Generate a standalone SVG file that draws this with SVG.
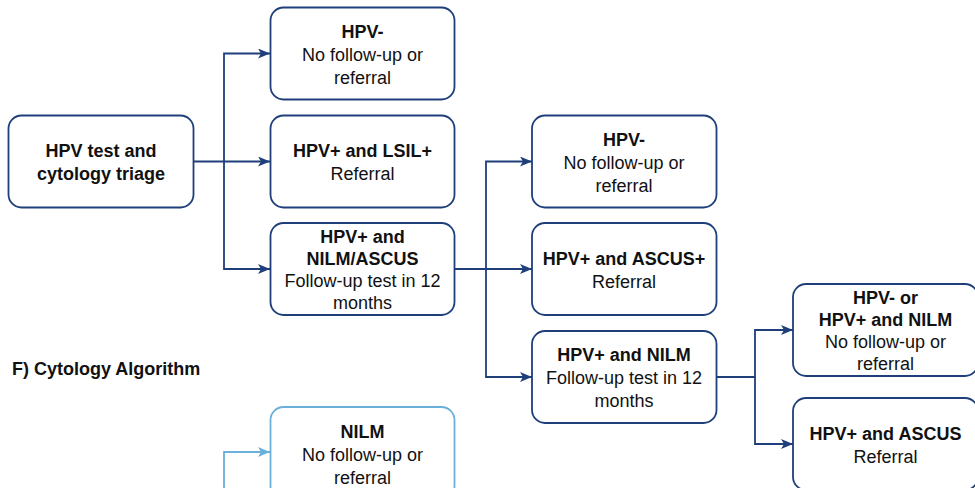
<svg xmlns="http://www.w3.org/2000/svg" width="975" height="488" viewBox="0 0 975 488">
<defs>
<style>
.box{fill:#fff;stroke:#1F3F7A;stroke-width:1.8}
.lbox{fill:#fff;stroke:#6BAFDB;stroke-width:1.8}
text{font-family:"Liberation Sans",Arial,sans-serif;font-size:18px;fill:#111;text-anchor:middle}
.b{font-weight:bold}
.c{fill:none;stroke:#1F3F7A;stroke-width:1.8}
.lc{fill:none;stroke:#6BAFDB;stroke-width:1.8}
</style>
<marker id="ah" viewBox="0 0 12 10" refX="12" refY="5" markerWidth="12" markerHeight="10" markerUnits="userSpaceOnUse" orient="auto">
<path d="M0,0 L12,5 L0,10 L3,5 Z" fill="#1F3F7A"/>
</marker>
<marker id="lah" viewBox="0 0 12 10" refX="12" refY="5" markerWidth="12" markerHeight="10" markerUnits="userSpaceOnUse" orient="auto">
<path d="M0,0 L12,5 L0,10 L3,5 Z" fill="#6BAFDB"/>
</marker>
</defs>
<rect width="975" height="488" fill="#fff"/>

<g id="connectors">
<path class="c" d="M193.5,161.5 H224 V53.5 H270" marker-end="url(#ah)"/>
<path class="c" d="M224,161.5 H270" marker-end="url(#ah)"/>
<path class="c" d="M224,161.5 V269 H270" marker-end="url(#ah)"/>
<path class="c" d="M455,269 H532" marker-end="url(#ah)"/>
<path class="c" d="M486,269 V161.5 H532" marker-end="url(#ah)"/>
<path class="c" d="M486,269 V377 H532" marker-end="url(#ah)"/>
<path class="c" d="M717,377 H755 V330 H793" marker-end="url(#ah)"/>
<path class="c" d="M755,377 V444 H793" marker-end="url(#ah)"/>
<path class="lc" d="M224,490 V452 H270" marker-end="url(#lah)"/>
</g>

<g id="start">
<rect class="box" x="8.5" y="115.5" width="185" height="92" rx="13"/>
<text class="b" x="101" y="157">HPV test and</text>
<text class="b" x="101" y="180">cytology triage</text>
</g>

<g id="hpvneg1">
<rect class="box" x="270.5" y="7.5" width="184" height="92" rx="13"/>
<text class="b" x="362.5" y="38">HPV-</text>
<text x="362.5" y="61">No follow-up or</text>
<text x="362.5" y="84">referral</text>
</g>

<g id="lsil">
<rect class="box" x="270.5" y="115.5" width="184" height="92" rx="13"/>
<text class="b" x="362.5" y="157">HPV+ and LSIL+</text>
<text x="362.5" y="180">Referral</text>
</g>

<g id="nilmascus">
<rect class="box" x="270.5" y="223" width="184" height="92" rx="13"/>
<text class="b" x="362.5" y="243">HPV+ and</text>
<text class="b" x="362.5" y="265">NILM/ASCUS</text>
<text x="362.5" y="287">Follow-up test in 12</text>
<text x="362.5" y="309">months</text>
</g>

<g id="hpvneg2">
<rect class="box" x="532" y="115.5" width="184.5" height="92" rx="13"/>
<text class="b" x="624" y="146">HPV-</text>
<text x="624" y="169">No follow-up or</text>
<text x="624" y="192">referral</text>
</g>

<g id="ascusplus">
<rect class="box" x="532" y="223" width="184.5" height="92" rx="13"/>
<text class="b" x="624" y="265">HPV+ and ASCUS+</text>
<text x="624" y="288">Referral</text>
</g>

<g id="nilm2">
<rect class="box" x="532" y="331" width="184.5" height="92" rx="13"/>
<text class="b" x="624" y="361">HPV+ and NILM</text>
<text x="624" y="384">Follow-up test in 12</text>
<text x="624" y="407">months</text>
</g>

<g id="final-neg">
<rect class="box" x="793" y="284" width="185" height="92" rx="13"/>
<text class="b" x="885.5" y="304">HPV- or</text>
<text class="b" x="885.5" y="326">HPV+ and NILM</text>
<text x="885.5" y="348">No follow-up or</text>
<text x="885.5" y="370">referral</text>
</g>

<g id="final-ascus">
<rect class="box" x="793" y="398" width="185" height="92" rx="13"/>
<text class="b" x="885.5" y="439.5">HPV+ and ASCUS</text>
<text x="885.5" y="462.5">Referral</text>
</g>

<g id="label">
<text class="b" x="12" y="375" style="text-anchor:start">F) Cytology Algorithm</text>
</g>

<g id="nilm-cyto">
<rect class="lbox" x="270.5" y="407" width="184" height="92" rx="13"/>
<text class="b" x="362.5" y="438">NILM</text>
<text x="362.5" y="461">No follow-up or</text>
<text x="362.5" y="484">referral</text>
</g>
</svg>
